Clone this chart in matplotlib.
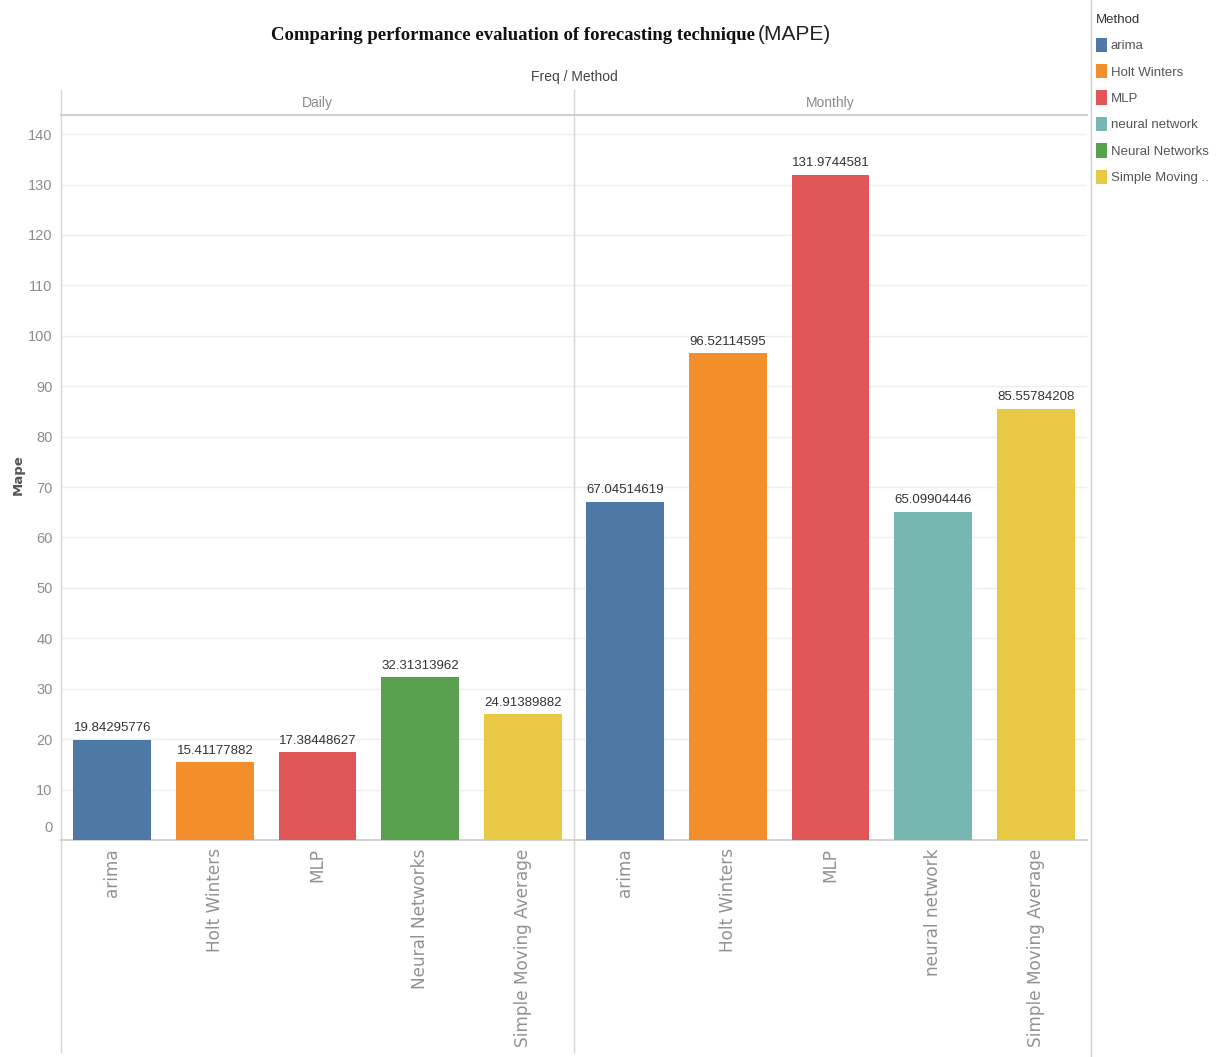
import matplotlib
matplotlib.use("Agg")
import matplotlib.pyplot as plt
from matplotlib.lines import Line2D
from matplotlib.patches import Patch
import matplotlib.transforms as mtransforms

# data
freqs = ["Daily", "Monthly"]
daily_methods = ["arima", "Holt Winters", "MLP", "Neural Networks", "Simple Moving Average"]
daily_mape = [19.84295776, 15.41177882, 17.38448627, 32.31313962, 24.91389882]
monthly_methods = ["arima", "Holt Winters", "MLP", "neural network", "Simple Moving Average"]
monthly_mape = [67.04514619, 96.52114595, 131.9744581, 65.09904446, 85.55784208]

legend_methods = ["arima", "Holt Winters", "MLP", "neural network", "Neural Networks",
                  "Simple Moving Average"]
legend_labels = ["arima", "Holt Winters", "MLP", "neural network", "Neural Networks",
                 "Simple Moving .."]
method_colors = {
    "arima": "#4e79a7",
    "Holt Winters": "#f28e2b",
    "MLP": "#e15759",
    "neural network": "#76b7b2",
    "Neural Networks": "#59a14f",
    "Simple Moving Average": "#e9c846",
}
y_ticks = list(range(0, 150, 10))

W, H = 1222, 1057
NARROW = ["Liberation Sans", "DejaVu Sans"]


def fx(px):
    return px / W


def fy(py):
    return 1 - py / H


fig = plt.figure(figsize=(W / 100, H / 100), dpi=100)
fig.patch.set_facecolor("white")

ax = fig.add_axes([fx(61), fy(840), fx(1087 - 61), (840 - 115) / H])

methods = daily_methods + monthly_methods
values = daily_mape + monthly_mape
xs = list(range(len(values)))
bars = ax.bar(xs, values, width=0.76, color=[method_colors[m] for m in methods], zorder=3)

for rect, v in zip(bars, values):
    ax.annotate(f"{v:.10g}", (rect.get_x() + rect.get_width() / 2, v),
                xytext=(0, 4), textcoords="offset points", ha="center", va="bottom",
                fontsize=9.5, family=NARROW, color="#333333")

ax.set_xlim(-0.5, len(values) - 0.5)
ax.set_ylim(0, 143.8)
ax.set_yticks(y_ticks)
ax.set_yticklabels([str(t) for t in y_ticks], family=NARROW, fontsize=10.5, color="#8c8c8c")
ax.tick_params(axis="y", length=0, pad=6)
# tableau nudges the zero label up off the baseline
lab0 = ax.get_yticklabels()[0]
lab0.set_transform(lab0.get_transform() + mtransforms.ScaledTranslation(0, 13 / 100, fig.dpi_scale_trans))

ax.set_xticks(xs)
ax.set_xticklabels(methods, rotation=90, ha="center", va="top", fontsize=12.2,
                   family="DejaVu Sans", color="#929292")
ax.tick_params(axis="x", length=0, pad=6)

ax.grid(axis="y", color="#eeeeee", linewidth=1, zorder=0)
for s in ["top", "right", "left"]:
    ax.spines[s].set_visible(False)
ax.spines["bottom"].set_color("#cccccc")
ax.spines["bottom"].set_linewidth(1.2)

# pane borders, extended over header and label area
trans = mtransforms.blended_transform_factory(ax.transData, ax.transAxes)
y_lo, y_hi = (840 - 1052) / 725, (840 - 90) / 725
for xv in [-0.5, len(daily_mape) - 0.5]:
    ax.add_line(Line2D([xv, xv], [y_lo, y_hi], transform=trans, color="#d6d6d6",
                       linewidth=1, clip_on=False))
ax.add_line(Line2D([-0.5, len(values) - 0.5], [1, 1], transform=trans, color="#cfcfcf",
                   linewidth=1.5, clip_on=False))

# pane headers
for i, f in enumerate(freqs):
    xc = i * len(daily_mape) + (len(daily_mape) - 1) / 2
    ax.text(xc, (840 - 103) / 725, f, transform=trans, ha="center", va="center",
            fontsize=10, family=NARROW, color="#8a8a8a")

fig.text(fx(574), fy(77), "Freq / Method", ha="center", va="center", fontsize=10,
         family=NARROW, color="#444444")
fig.text(fx(18), fy(475), "Mape", rotation=90, ha="center", va="center", fontsize=9.5,
         fontweight="bold", color="#555555")

# title: bold serif part + light "(MAPE)"
fig.text(fx(755), fy(40), "Comparing performance evaluation of forecasting technique",
         ha="right", va="baseline", fontsize=13.5, fontweight="bold",
         family="Liberation Serif", color="#111111")
fig.text(fx(758), fy(40), "(MAPE)", ha="left", va="baseline", fontsize=15,
         family=NARROW, color="#222222")

# legend separator
fig.add_artist(Line2D([fx(1091), fx(1091)], [0, 1], color="#cfcfcf", linewidth=1))

handles = [Patch(facecolor=method_colors[m], edgecolor="none") for m in legend_methods]
leg = fig.legend(handles, legend_labels, title="Method", loc="upper left",
                 bbox_to_anchor=(fx(1096), fy(14)), frameon=False,
                 prop={"family": NARROW, "size": 9.5},
                 title_fontproperties={"family": NARROW, "size": 9.5},
                 handlelength=0.8, handleheight=1.3, handletextpad=0.3,
                 labelspacing=0.89, borderaxespad=0, borderpad=0, alignment="left")
for t in leg.get_texts():
    t.set_color("#555555")
leg.get_title().set_color("#333333")

fig.savefig("out.png", dpi=100, facecolor="white")
